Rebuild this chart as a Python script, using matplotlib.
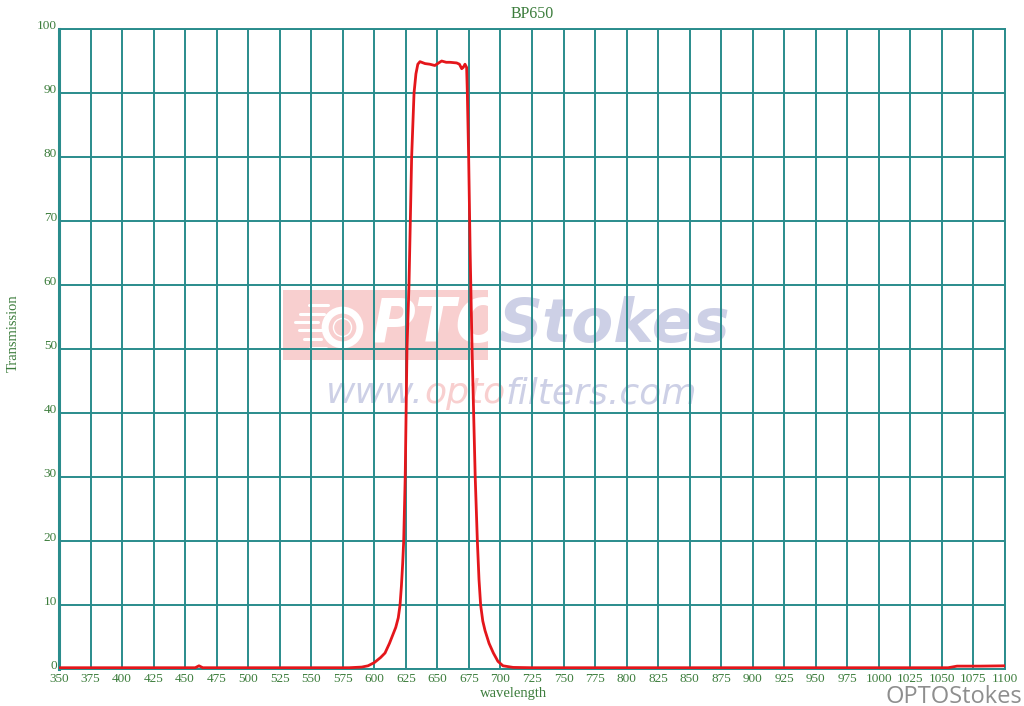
import numpy as np
import matplotlib.pyplot as plt
from matplotlib.patches import Rectangle

wavelength = [350, 400, 450, 458, 461, 464, 500, 550, 580, 590, 595, 600, 605,
              608.5, 612, 615, 617, 619, 620.4, 621.5, 622.5, 623.3, 624.5, 625.9,
              627.5, 629.6, 631.5, 633, 634.5, 636.2, 640.2, 644, 648, 651, 653.4,
              657, 660, 665.3, 667.5, 669.3, 670.5, 671.9, 673.2, 673.7, 674.8,
              676, 677.5, 680, 681.7, 683, 684.3, 686, 687.8, 691, 694.4, 698,
              702, 710, 725, 800, 900, 1000, 1055, 1062, 1080, 1100]
transmission = [0.2, 0.2, 0.2, 0.2, 0.5, 0.2, 0.2, 0.2, 0.2, 0.3, 0.5, 1.0, 1.8,
                2.5, 4.0, 5.5, 6.5, 8.0, 10.0, 13.0, 16.5, 20.0, 30.0, 50.0,
                60.0, 80.0, 90.0, 93.0, 94.5, 94.9, 94.6, 94.5, 94.3, 94.7, 95.0,
                94.8, 94.8, 94.7, 94.5, 93.8, 94.0, 94.5, 94.0, 90.5, 80.0,
                65.0, 50.0, 30.0, 20.0, 14.0, 10.0, 7.5, 6.0, 4.0, 2.5, 1.2,
                0.5, 0.25, 0.2, 0.2, 0.2, 0.2, 0.2, 0.45, 0.45, 0.5]

x_ticks = list(range(350, 1101, 25))
y_ticks = list(range(0, 101, 10))

grid_col = '#2a8c8c'
text_col = '#3c7d3c'
line_col = '#e4161b'
wm_blue = '#cdd0e6'
wm_pink = '#f8cfcf'

fig = plt.figure(figsize=(10.24, 7.06), dpi=100)
ax = fig.add_axes([0.0576, 0.0524, 0.9238, 0.9065])

ax.set_xlim(350, 1100)
ax.set_ylim(0, 100)
ax.set_xticks(x_ticks)
ax.set_yticks(y_ticks)
ax.tick_params(length=0, pad=3, labelsize=9.5, colors=text_col)
ax.tick_params(axis='y', pad=1.5)
for lab in ax.get_xticklabels() + ax.get_yticklabels():
    lab.set_fontfamily('Liberation Serif')
for lab in ax.get_yticklabels():
    lab.set_verticalalignment('baseline')
ax.grid(True, color=grid_col, lw=1.4)
for s in ax.spines.values():
    s.set_color(grid_col)
    s.set_linewidth(1.4)
ax.spines['left'].set_linewidth(2.2)

# --- znak wodny OPTOStokes ---
ax.add_patch(Rectangle((527.5, 48.3), 162.5, 10.9, facecolor=wm_pink,
                       edgecolor='none', zorder=0.5))
for yy, x0, x1 in [(56.8, 548, 563), (55.5, 541, 560), (54.2, 537, 555),
                   (52.9, 540, 560), (51.6, 544, 558), (50.2, 549, 562)]:
    ax.plot([x0, x1], [yy, yy], color='white', lw=2.2, solid_capstyle='round', zorder=0.6)
ax.plot([574.1], [53.5], marker='o', ms=25, mfc='none', mec='white', mew=5, zorder=0.6)
ax.plot([574.1], [53.5], marker='o', ms=13, mfc='none', mec='white', mew=1.0, zorder=0.6)
ax.text(598, 53.6, 'PTO', fontsize=43, fontstyle='italic', fontweight='bold',
        color='white', ha='left', va='center', family='DejaVu Sans', zorder=0.6)
ax.text(698, 53.6, 'Stokes', fontsize=44, fontstyle='italic', fontweight='bold',
        color=wm_blue, ha='left', va='center', family='DejaVu Sans', zorder=0.6)

t1 = ax.text(562, 43.1, 'www.', fontsize=26, fontstyle='italic', color=wm_blue,
             ha='left', va='center', family='DejaVu Sans', zorder=0.6)
t2 = ax.annotate('opto', xy=(1, 0), xycoords=t1, fontsize=26, fontstyle='italic',
                 color=wm_pink, ha='left', va='bottom', family='DejaVu Sans', zorder=0.6)
ax.annotate('filters.com', xy=(1, 0), xycoords=t2, fontsize=26, fontstyle='italic',
            color=wm_blue, ha='left', va='bottom', family='DejaVu Sans', zorder=0.6)

ax.plot(wavelength, transmission, color=line_col, lw=2.0, zorder=3)

ax.set_title('BP650', fontsize=11.5, color=text_col, family='Liberation Serif', pad=8)
ax.set_xlabel('wavelength', fontsize=10.5, color=text_col, family='Liberation Serif')
ax.xaxis.set_label_coords(0.48, -0.028)
ax.set_ylabel('Transmission', fontsize=10.5, color=text_col, family='Liberation Serif')
ax.yaxis.set_label_coords(-0.041, 0.525)

fig.text(1022 / 1024, 1 - 703 / 706, 'OPTOStokes', fontsize=17, color='#8e8e8e',
         ha='right', va='baseline', family='Open Sans')

fig.savefig('out.png', dpi=100)
